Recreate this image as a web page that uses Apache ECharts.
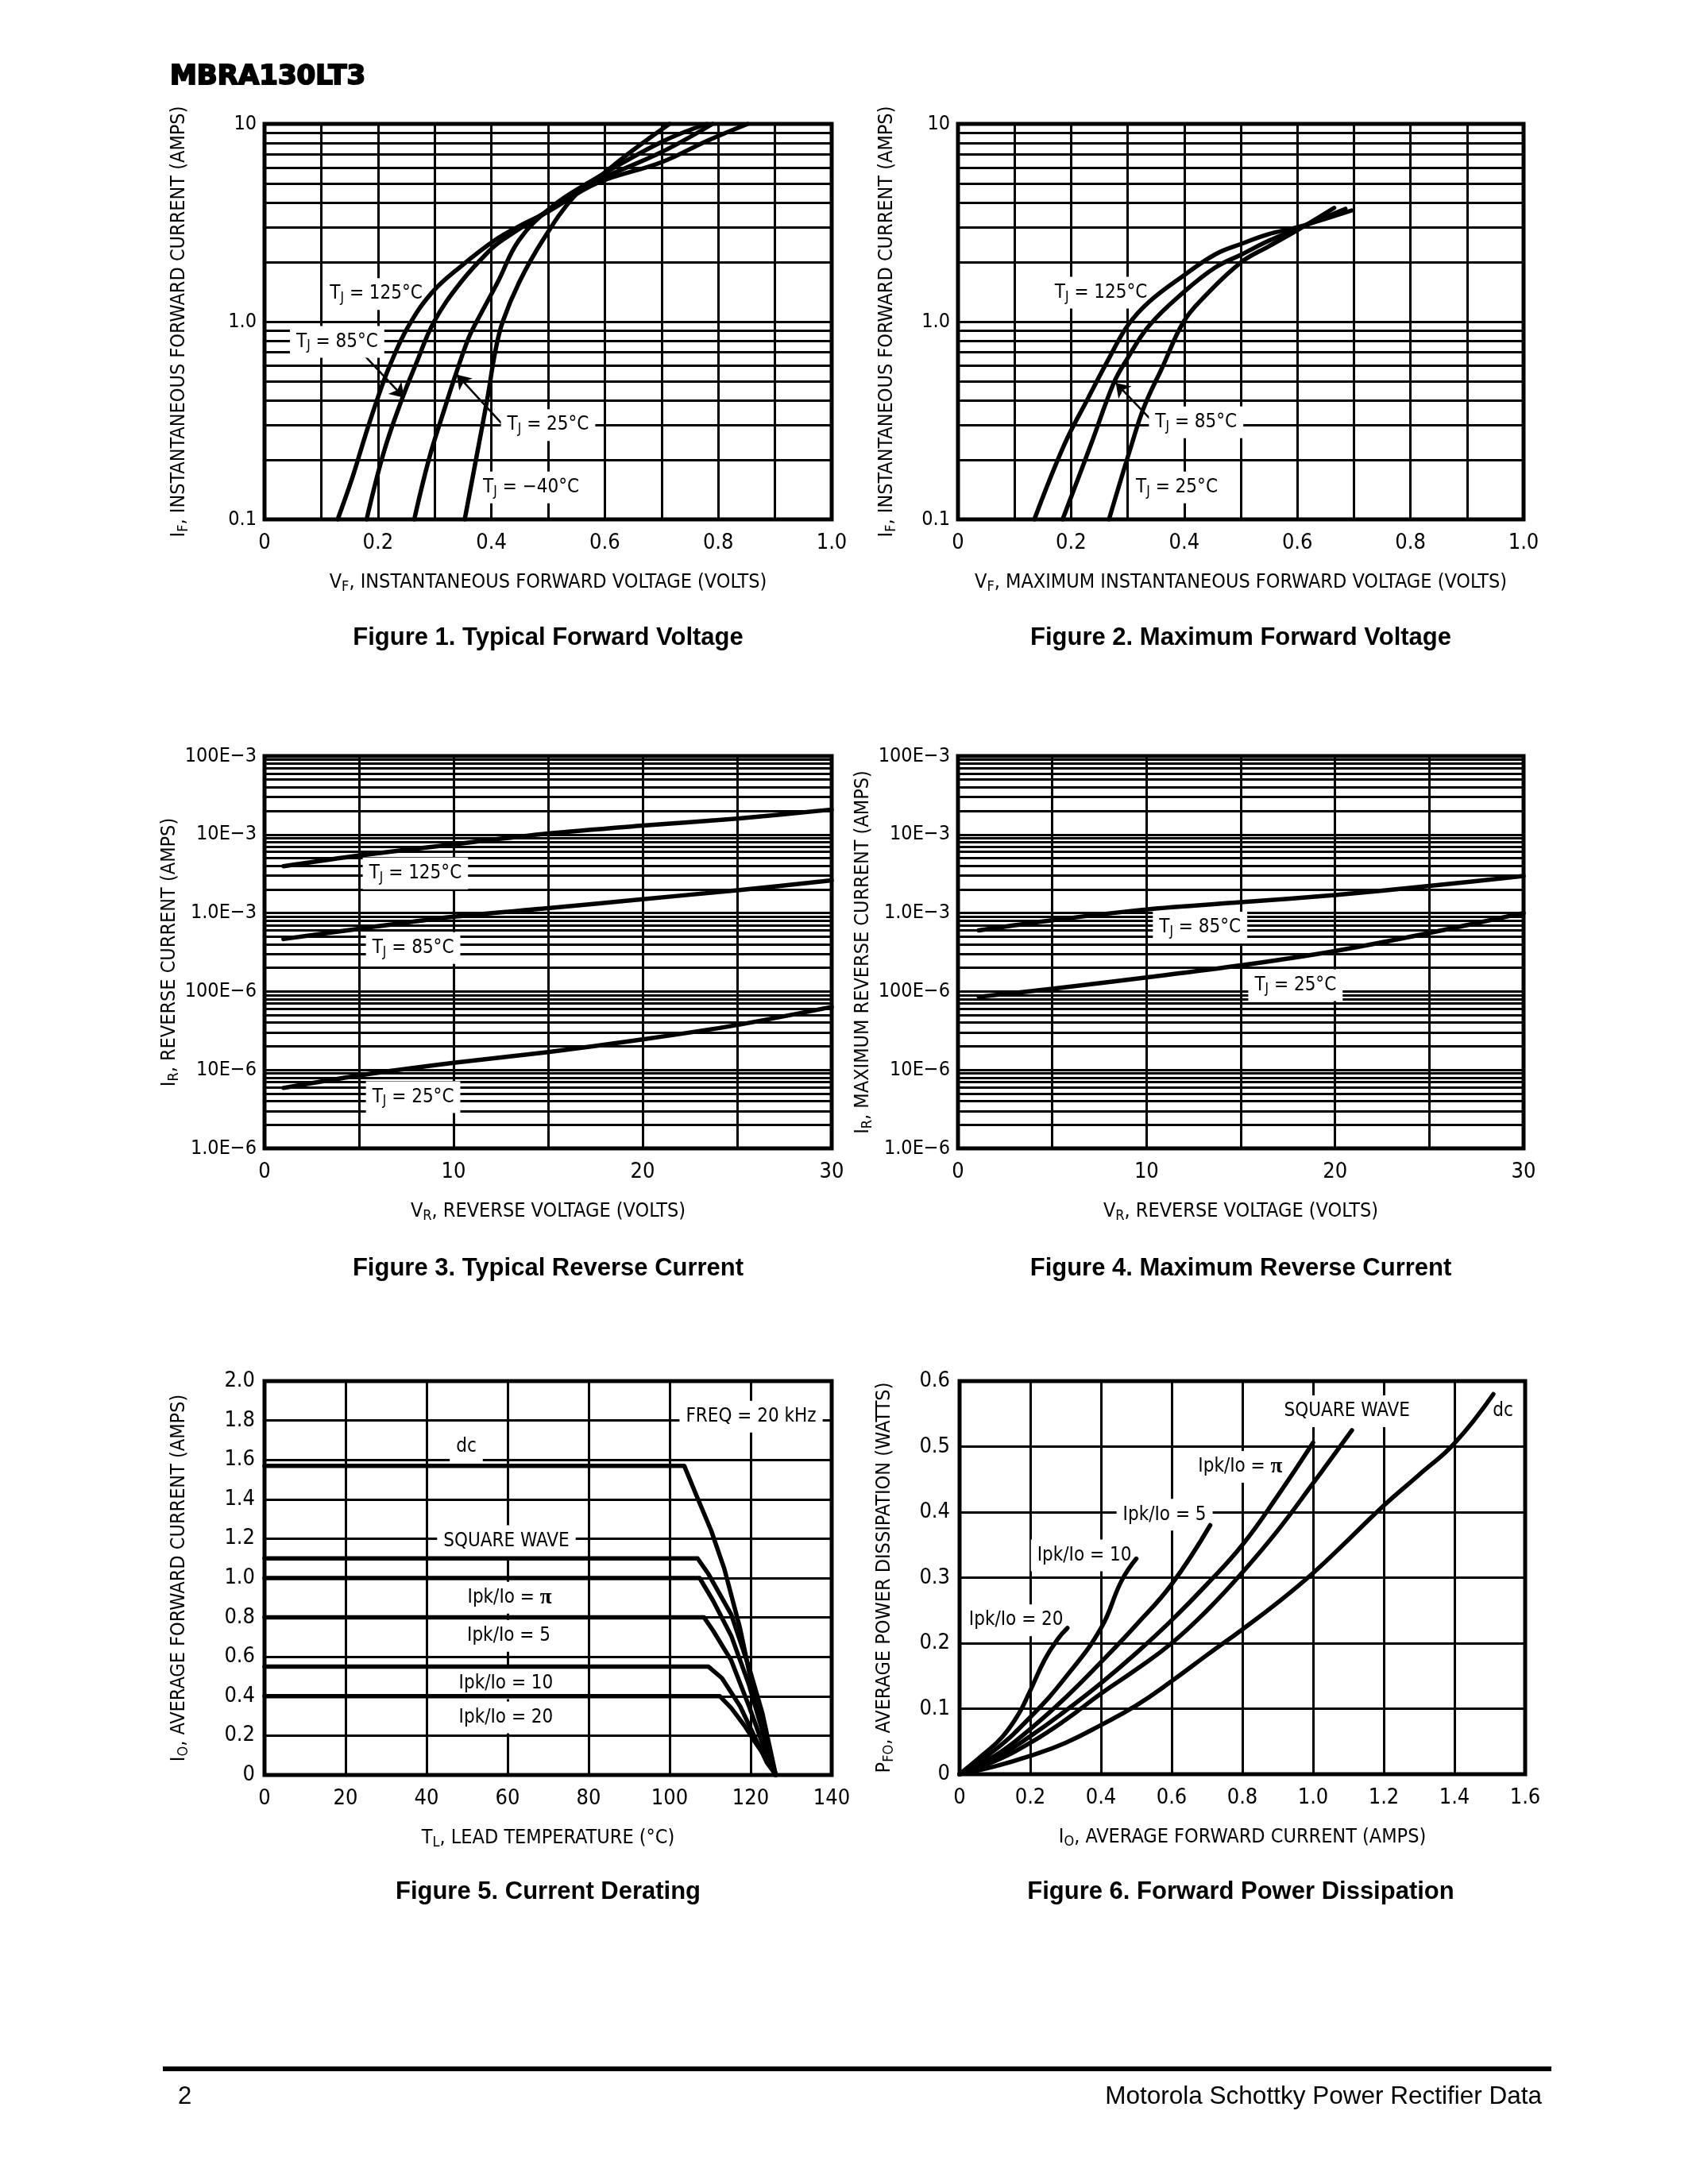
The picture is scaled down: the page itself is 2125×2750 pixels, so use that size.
<!DOCTYPE html>
<html><head><meta charset="utf-8">
<script src="https://cdn.jsdelivr.net/npm/echarts@6/dist/echarts.min.js"></script>
<style>html,body{margin:0;padding:0;background:#fff}#c{width:2125px;height:2750px}</style>
</head><body><div id="c"></div>
<script>
// ================= DATA =================
// Figure 1 – Typical Forward Voltage  [VF (V), IF (A)]
const fig1XTicks = ['0','0.2','0.4','0.6','0.8','1.0'];
const fig1YTicks = ['0.1','1.0','10'];
const fig1_125 = [[0.129,0.1],[0.155,0.163],[0.178,0.267],[0.201,0.423],[0.222,0.61],[0.253,0.94],[0.295,1.4],[0.346,1.9],[0.407,2.59],[0.45,3.05],[0.5,3.6],[0.585,5.0],[0.7,6.4],[0.78,8.2],[0.852,10]];
const fig1_85  = [[0.18,0.1],[0.211,0.222],[0.243,0.41],[0.267,0.61],[0.299,1.0],[0.346,1.58],[0.397,2.29],[0.42,2.59],[0.5,3.65],[0.57,4.9],[0.7,7.2],[0.79,10]];
const fig1_25  = [[0.264,0.1],[0.29,0.202],[0.316,0.352],[0.337,0.54],[0.36,0.83],[0.374,1.0],[0.411,1.58],[0.449,2.59],[0.506,3.8],[0.569,5.0],[0.7,8.1],[0.78,10]];
const fig1_m40 = [[0.353,0.1],[0.374,0.209],[0.393,0.41],[0.407,0.71],[0.42,1.0],[0.449,1.58],[0.491,2.59],[0.545,4.27],[0.585,5.25],[0.648,7.3],[0.714,10]];
const fig1Labels = [
  {x:0.197, y:1.38, t:'{m|T}{s|J}{m| = 125°C}'},
  {x:0.128, y:0.79, t:'{m|T}{s|J}{m| = 85°C}'},
  {x:0.5,   y:0.30, t:'{m|T}{s|J}{m| = 25°C}'},
  {x:0.47,  y:0.145,t:'{m|T}{s|J}{m| = −40°C}'}
];
const fig1Arrows = [[[0.171,0.70],[0.246,0.413]],[[0.418,0.306],[0.339,0.54]]];

// Figure 2 – Maximum Forward Voltage
const fig2_125 = [[0.135,0.1],[0.188,0.239],[0.23,0.41],[0.268,0.66],[0.3,0.955],[0.338,1.26],[0.399,1.71],[0.455,2.19],[0.502,2.48],[0.549,2.77],[0.6,3.0],[0.696,3.65]];
const fig2_85  = [[0.185,0.1],[0.235,0.239],[0.275,0.486],[0.298,0.64],[0.338,0.955],[0.399,1.41],[0.455,1.88],[0.502,2.19],[0.549,2.56],[0.6,2.95],[0.685,3.72]];
const fig2_25  = [[0.267,0.1],[0.307,0.239],[0.329,0.37],[0.361,0.585],[0.399,1.0],[0.436,1.34],[0.5,1.99],[0.549,2.4],[0.6,2.9],[0.665,3.76]];
const fig2Labels = [
  {x:0.253, y:1.4,  t:'{m|T}{s|J}{m| = 125°C}'},
  {x:0.421, y:0.31, t:'{m|T}{s|J}{m| = 85°C}'},
  {x:0.387, y:0.145,t:'{m|T}{s|J}{m| = 25°C}'}
];
const fig2Arrows = [[[0.343,0.315],[0.279,0.49]]];

// Figure 3 – Typical Reverse Current [VR (V), IR (A)]
const fig3XTicks = ['0','10','20','30'];
const fig3YTicks = ['1.0E−6','10E−6','100E−6','1.0E−3','10E−3','100E−3'];
const fig3_125 = [[1,3.95e-3],[5,5.4e-3],[10,7.5e-3],[15,1.03e-2],[20,1.3e-2],[25,1.6e-2],[30,2.08e-2]];
const fig3_85  = [[1,4.66e-4],[5,6.3e-4],[10,8.97e-4],[15,1.15e-3],[20,1.5e-3],[25,1.95e-3],[30,2.6e-3]];
const fig3_25  = [[1,5.9e-6],[5,8.5e-6],[10,1.23e-5],[15,1.69e-5],[20,2.45e-5],[25,3.74e-5],[30,6.35e-5]];
const fig3Labels = [
  {x:7.98, y:3.2e-3, t:'{m|T}{s|J}{m| = 125°C}'},
  {x:7.86, y:3.57e-4,t:'{m|T}{s|J}{m| = 85°C}'},
  {x:7.86, y:4.5e-6, t:'{m|T}{s|J}{m| = 25°C}'}
];

// Figure 4 – Maximum Reverse Current
const fig4_85 = [[1.1,6.0e-4],[5,8.07e-4],[10,1.11e-3],[15,1.37e-3],[20,1.69e-3],[25,2.21e-3],[30,2.97e-3]];
const fig4_25 = [[1.1,8.55e-5],[5,1.08e-4],[10,1.51e-4],[15,2.15e-4],[20,3.28e-4],[25,5.57e-4],[30,1.0e-3]];
const fig4Labels = [
  {x:12.84, y:6.5e-4, t:'{m|T}{s|J}{m| = 85°C}'},
  {x:17.9,  y:1.2e-4, t:'{m|T}{s|J}{m| = 25°C}'}
];

// Figure 5 – Current Derating [TL (°C), IO (A)]
const fig5XTicks = ['0','20','40','60','80','100','120','140'];
const fig5YTicks = ['0','0.2','0.4','0.6','0.8','1.0','1.2','1.4','1.6','1.8','2.0'];
const fig5_dc = [[0,1.57],[103.6,1.57],[107,1.4],[110.2,1.244],[113.5,1.047],[117.4,0.743],[120.7,0.42],[124,0.134],[126.2,0]];
const fig5_sq = [[0,1.1],[106.9,1.1],[109.6,1.02],[115.2,0.815],[119.6,0.546],[122.9,0.313],[126.2,0]];
const fig5_pi = [[0,1.0],[107.4,1.0],[110.7,0.886],[115.2,0.707],[119.6,0.457],[122.9,0.224],[126.2,0]];
const fig5_5  = [[0,0.8],[108.5,0.8],[110.7,0.734],[115.2,0.582],[119.6,0.349],[124,0.098],[126.2,0]];
const fig5_10 = [[0,0.55],[109.6,0.55],[112.9,0.492],[117.4,0.349],[120.7,0.206],[124,0.063],[126.2,0]];
const fig5_20 = [[0,0.4],[112.4,0.4],[115.2,0.34],[118.5,0.25],[120.7,0.179],[124,0.08],[126.2,0]];
const fig5Labels = [
  {x:49.8,  y:1.665, t:'{m|dc}'},
  {x:59.7,  y:1.187, t:'{m|SQUARE WAVE}'},
  {x:120.1, y:1.82,  t:'{m|FREQ = 20 kHz}'},
  {x:60.5,  y:0.90,  t:'{m|Ipk/Io = }{p|π}'},
  {x:60.3,  y:0.707, t:'{m|Ipk/Io = 5}'},
  {x:59.6,  y:0.466, t:'{m|Ipk/Io = 10}'},
  {x:59.6,  y:0.292, t:'{m|Ipk/Io = 20}'}
];

// Figure 6 – Forward Power Dissipation [IO (A), PFO (W)]
const fig6XTicks = ['0','0.2','0.4','0.6','0.8','1.0','1.2','1.4','1.6'];
const fig6YTicks = ['0','0.1','0.2','0.3','0.4','0.5','0.6'];
const fig6_dc = [[0,0],[0.1,0.012],[0.2,0.028],[0.3,0.048],[0.4,0.075],[0.5,0.105],[0.6,0.142],[0.7,0.182],[0.8,0.221],[0.9,0.262],[1.0,0.307],[1.1,0.358],[1.2,0.41],[1.3,0.457],[1.4,0.505],[1.51,0.58]];
const fig6_sq = [[0,0],[0.1,0.02],[0.2,0.048],[0.3,0.083],[0.4,0.123],[0.5,0.16],[0.6,0.2],[0.7,0.25],[0.8,0.308],[0.9,0.372],[1.0,0.444],[1.11,0.525]];
const fig6_pi = [[0,0],[0.1,0.024],[0.2,0.058],[0.3,0.097],[0.4,0.139],[0.5,0.185],[0.6,0.235],[0.7,0.29],[0.8,0.35],[0.9,0.425],[1.0,0.506]];
const fig6_5  = [[0,0],[0.1,0.028],[0.2,0.069],[0.3,0.117],[0.4,0.171],[0.5,0.228],[0.6,0.29],[0.709,0.38]];
const fig6_10 = [[0,0],[0.1,0.037],[0.2,0.087],[0.3,0.148],[0.4,0.223],[0.458,0.295],[0.5,0.329]];
const fig6_20 = [[0,0],[0.069,0.031],[0.121,0.057],[0.166,0.091],[0.196,0.123],[0.241,0.175],[0.279,0.207],[0.305,0.223]];
const fig6Labels = [
  {x:1.096, y:0.554, t:'{m|SQUARE WAVE}'},
  {x:1.537, y:0.554, t:'{m|dc}'},
  {x:0.794, y:0.469, t:'{m|Ipk/Io = }{p|π}'},
  {x:0.58,  y:0.396, t:'{m|Ipk/Io = 5}'},
  {x:0.353, y:0.334, t:'{m|Ipk/Io = 10}'},
  {x:0.16,  y:0.235, t:'{m|Ipk/Io = 20}'}
];

const axisTitles = [
  ['{m|V}{s|F}{m|, INSTANTANEOUS FORWARD VOLTAGE (VOLTS)}', '{m|I}{s|F}{m|, INSTANTANEOUS FORWARD CURRENT (AMPS)}'],
  ['{m|V}{s|F}{m|, MAXIMUM INSTANTANEOUS FORWARD VOLTAGE (VOLTS)}', '{m|I}{s|F}{m|, INSTANTANEOUS FORWARD CURRENT (AMPS)}'],
  ['{m|V}{s|R}{m|, REVERSE VOLTAGE (VOLTS)}', '{m|I}{s|R}{m|, REVERSE CURRENT (AMPS)}'],
  ['{m|V}{s|R}{m|, REVERSE VOLTAGE (VOLTS)}', '{m|I}{s|R}{m|, MAXIMUM REVERSE CURRENT (AMPS)}'],
  ['{m|T}{s|L}{m|, LEAD TEMPERATURE (°C)}', '{m|I}{s|O}{m|, AVERAGE FORWARD CURRENT (AMPS)}'],
  ['{m|I}{s|O}{m|, AVERAGE FORWARD CURRENT (AMPS)}', '{m|P}{s|FO}{m|, AVERAGE POWER DISSIPATION (WATTS)}']
];
const figTitles = ['Figure 1. Typical Forward Voltage','Figure 2. Maximum Forward Voltage','Figure 3. Typical Reverse Current','Figure 4. Maximum Reverse Current','Figure 5. Current Derating','Figure 6. Forward Power Dissipation'];

// ================= LAYOUT / STYLE =================
const F = '"Liberation Sans Narrow","Arial Narrow","DejaVu Sans Condensed",sans-serif';
const BLACK = '#000';
const grids = [
  {left:333, top:156, width:714, height:498},
  {left:1206, top:156, width:712, height:498},
  {left:333, top:952, width:714, height:494},
  {left:1206, top:952, width:712, height:494},
  {left:333, top:1739, width:714, height:496},
  {left:1208, top:1739, width:712, height:495}
].map(g => Object.assign({show:true, borderColor:BLACK, borderWidth:5, backgroundColor:'transparent', containLabel:false}, g));
const yNameGap = [93, 75, 93, 86, 93, 80];
const titleXY = [[690,803],[1562,803],[690,1597],[1562,1597],[690,2382],[1562,2382]];

const richName = {
  m:{fontFamily:F, fontSize:25, color:BLACK, lineHeight:30, verticalAlign:'middle'},
  s:{fontFamily:F, fontSize:18, color:BLACK, lineHeight:12, verticalAlign:'bottom'}
};
const richLab = {
  m:{fontFamily:F, fontSize:24, color:BLACK, lineHeight:28, verticalAlign:'middle', textBorderWidth:0},
  s:{fontFamily:F, fontSize:17, color:BLACK, lineHeight:11, verticalAlign:'bottom', textBorderWidth:0},
  p:{fontFamily:'"Liberation Serif",serif', fontWeight:'bold', fontSize:27, color:BLACK, lineHeight:28, verticalAlign:'middle', textBorderWidth:0}
};
const gridLine = {color:BLACK, width:3};

function xAxisCfg(gi, min, max, interval, minor, ticks){
  return {type:'value', gridIndex:gi, min, max, interval,
    name: axisTitles[gi][0], nameLocation:'middle', nameGap:64, nameTextStyle:{rich:richName},
    axisLine:{show:false}, axisTick:{show:false},
    splitLine:{show:true, lineStyle:gridLine},
    minorTick:{show:false, splitNumber:2}, minorSplitLine:{show:minor, lineStyle:gridLine},
    axisLabel:{margin:16, fontFamily:F, fontSize:27, color:BLACK, showMinLabel:true, showMaxLabel:true,
      formatter: v => ticks[Math.round((v-min)/interval)]}};
}
function yValCfg(gi, min, max, interval, ticks){
  return {type:'value', gridIndex:gi, min, max, interval,
    name: axisTitles[gi][1], nameLocation:'middle', nameGap:yNameGap[gi], nameTextStyle:{rich:richName},
    axisLine:{show:false}, axisTick:{show:false},
    splitLine:{show:true, lineStyle:gridLine},
    axisLabel:{margin:12, fontFamily:F, fontSize:27, color:BLACK, showMinLabel:true, showMaxLabel:true,
      formatter: v => ticks[Math.round((v-min)/interval)]}};
}
function yLogCfg(gi, min, max, ticks, loExp){
  return {type:'log', logBase:10, gridIndex:gi, min, max,
    name: axisTitles[gi][1], nameLocation:'middle', nameGap:yNameGap[gi], nameTextStyle:{rich:richName},
    axisLine:{show:false}, axisTick:{show:false},
    splitLine:{show:true, lineStyle:gridLine},
    axisLabel:{margin:10, fontFamily:F, fontSize:25, color:BLACK, showMinLabel:true, showMaxLabel:true,
      formatter: v => ticks[Math.round(Math.log10(v)) - loExp] || ''}};
}
function logMinors(lo, hi){
  const a = [];
  for (let e = lo; e < hi; e++) for (let k = 2; k <= 9; k++) a.push(k * Math.pow(10, e));
  return a;
}
// minor log grid lines (drawn beneath the labels)
function minorGrid(gi, values){
  return {type:'line', xAxisIndex:gi, yAxisIndex:gi, data:[], silent:true, z:1, symbol:'none',
    markLine:{silent:true, symbol:'none', animation:false, precision:12, label:{show:false},
      lineStyle:{color:BLACK, width:3, type:'solid'}, data: values.map(v => ({yAxis:v}))}};
}
function curve(gi, data, smooth){
  return {type:'line', xAxisIndex:gi, yAxisIndex:gi, data, showSymbol:false, symbol:'none',
    smooth: smooth,
    lineStyle:{color:BLACK, width:5.5, cap:'round', join:'round'}, silent:true, z:30};
}
function labels(gi, list, arrows){
  const s = {type:'scatter', xAxisIndex:gi, yAxisIndex:gi, symbolSize:0, silent:true, z:10,
    itemStyle:{color:BLACK, opacity:1},
    data: list.map(l => ({value:[l.x, l.y], label:{formatter:l.t}})),
    label:{show:true, position:'inside', color:BLACK, opacity:1, textBorderWidth:0, textBorderColor:'transparent',
      backgroundColor:'#fff', padding:[6,8,6,8], rich:richLab}};
  if (arrows) s.markLine = {silent:true, animation:false, precision:12, symbol:['none','arrow'], symbolSize:17, label:{show:false},
    lineStyle:{color:BLACK, width:2.5, type:'solid', opacity:1}, itemStyle:{color:BLACK},
    data: arrows.map(a => [{coord:a[0]}, {coord:a[1]}])};
  return s;
}

const series = [
  minorGrid(0, logMinors(-1, 1)),
  curve(0, fig1_125, 0.4), curve(0, fig1_85, 0.4), curve(0, fig1_25, 0.4), curve(0, fig1_m40, 0.4),
  labels(0, fig1Labels, fig1Arrows),
  minorGrid(1, logMinors(-1, 1)),
  curve(1, fig2_125, 0.4), curve(1, fig2_85, 0.4), curve(1, fig2_25, 0.4),
  labels(1, fig2Labels, fig2Arrows),
  minorGrid(2, logMinors(-6, -1)),
  curve(2, fig3_125, 0.3), curve(2, fig3_85, 0.3), curve(2, fig3_25, 0.3),
  labels(2, fig3Labels),
  minorGrid(3, logMinors(-6, -1)),
  curve(3, fig4_85, 0.3), curve(3, fig4_25, 0.3),
  labels(3, fig4Labels),
  curve(4, fig5_dc, 0), curve(4, fig5_sq, 0), curve(4, fig5_pi, 0), curve(4, fig5_5, 0), curve(4, fig5_10, 0), curve(4, fig5_20, 0),
  labels(4, fig5Labels),
  curve(5, fig6_dc, 0.45), curve(5, fig6_sq, 0.45), curve(5, fig6_pi, 0.45), curve(5, fig6_5, 0.45), curve(5, fig6_10, 0.45), curve(5, fig6_20, 0.45),
  labels(5, fig6Labels)
];

const graphics = [
  {type:'text', x:214, y:97, style:{text:'MBRA130LT3', font:'bold 34px "DejaVu Sans"', fill:BLACK, stroke:BLACK, lineWidth:2, textAlign:'left', textVerticalAlign:'middle'}},
  {type:'rect', shape:{x:205, y:2602, width:1748, height:6}, style:{fill:BLACK}},
  {type:'text', x:224, y:2640, style:{text:'2', font:'31px "Liberation Sans"', fill:BLACK, textAlign:'left', textVerticalAlign:'middle'}},
  {type:'text', x:1941, y:2640, style:{text:'Motorola Schottky Power Rectifier Data', font:'31.5px "Liberation Sans"', fill:BLACK, textAlign:'right', textVerticalAlign:'middle'}}
].concat(figTitles.map((t, i) => ({type:'text', x:titleXY[i][0], y:titleXY[i][1],
  style:{text:t, font:'bold 31px "Liberation Sans"', fill:BLACK, textAlign:'center', textVerticalAlign:'middle'}})));

const option = {
  animation:false,
  backgroundColor:'#fff',
  grid: grids,
  xAxis: [
    xAxisCfg(0, 0, 1, 0.2, true, fig1XTicks),
    xAxisCfg(1, 0, 1, 0.2, true, fig1XTicks),
    xAxisCfg(2, 0, 30, 10, true, fig3XTicks),
    xAxisCfg(3, 0, 30, 10, true, fig3XTicks),
    xAxisCfg(4, 0, 140, 20, false, fig5XTicks),
    xAxisCfg(5, 0, 1.6, 0.2, false, fig6XTicks)
  ],
  yAxis: [
    yLogCfg(0, 0.1, 10, fig1YTicks, -1),
    yLogCfg(1, 0.1, 10, fig1YTicks, -1),
    yLogCfg(2, 1e-6, 0.1, fig3YTicks, -6),
    yLogCfg(3, 1e-6, 0.1, fig3YTicks, -6),
    yValCfg(4, 0, 2, 0.2, fig5YTicks),
    yValCfg(5, 0, 0.6, 0.1, fig6YTicks)
  ],
  series,
  graphic: graphics
};
const chart = echarts.init(document.getElementById('c'), null, {renderer:'canvas'});
chart.setOption(option);
</script>
</body></html>
